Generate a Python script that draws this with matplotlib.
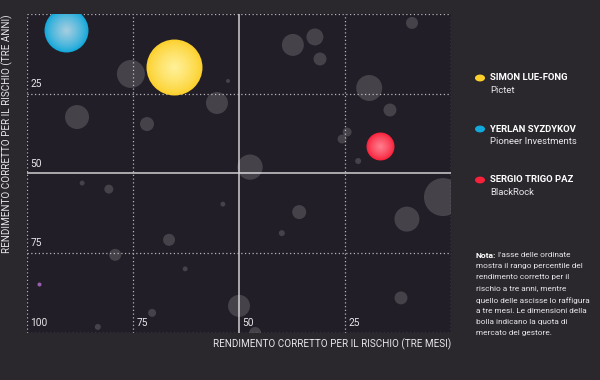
import numpy as np
import matplotlib.pyplot as plt
from matplotlib.colors import to_rgb

plt.rcParams['font.family'] = ['Roboto', 'DejaVu Sans']

# gestori evidenziati: rendimento 3 mesi (x), 3 anni (y), quota di mercato
nomi = ['SIMON LUE-FONG', 'YERLAN SYZDYKOV', 'SERGIO TRIGO PAZ']
societa = ['Pictet', 'Pioneer Investments', 'BlackRock']
x_top = [65.3, 90.8, 16.7]
y_top = [16.6, 5.0, 41.4]
quota_top = [78.4, 48.4, 19.6]
colori = ['#fcd02c', '#12a8da', '#f7213b']
centri = ['#fff29c', '#a9cfe0', '#ff8090']

# altri gestori
x_altri = [75.5, 88.2, 71.7, 55.2, 52.6, 37.3, 32.1, 30.9, 9.2, 19.3, 14.4, 24.5,
           25.7, 21.9, 47.4, 87.0, 80.7, 53.8, 66.5, 79.2, 62.7, 70.5, 83.3,
           50.0, 35.8, 39.9, 10.4, 1.9, 11.8, 46.2]
y_altri = [18.8, 32.3, 34.5, 27.9, 21.0, 9.7, 7.2, 14.1, 2.8, 23.2, 30.1, 37.0,
           39.2, 46.1, 48.0, 53.0, 54.9, 59.6, 70.8, 75.5, 79.9, 93.7, 98.1,
           91.5, 62.1, 68.7, 64.3, 57.4, 89.0, 100.0]
quota_altri = [19.6, 14.4, 4.9, 12.1, 0.4, 12.1, 7.2, 4.2, 3.6, 16.9, 4.2, 2.0,
               2.0, 0.9, 16.0, 0.6, 2.0, 0.6, 3.6, 3.6, 0.6, 1.6, 0.9,
               12.1, 4.9, 0.9, 15.6, 36.1, 4.2, 3.6]
x_viola = [97.2]
y_viola = [84.6]

ticks = [25, 50, 75, 100]
scala = 20.7

fig = plt.figure(figsize=(6, 3.8), dpi=100, facecolor='#2a272d')
ax = fig.add_axes([0.045, 0.1237, 0.7067, 0.8395])
ax.set_facecolor('#221e28')
ax.set_xlim(100, 0)
ax.set_ylim(100, 0)

ax.scatter(x_altri, y_altri, s=[q * scala for q in quota_altri],
           color='white', alpha=0.16, linewidths=0, zorder=2)
ax.scatter(x_viola, y_viola, s=0.4 * scala, color='#9a5fb0', linewidths=0, zorder=2)

# bolle con sfumatura radiale
for xi, yi, q, c1, c2 in zip(x_top, y_top, quota_top, colori, centri):
    a = np.array(to_rgb(c1))
    b = np.array(to_rgb(c2))
    for k in np.linspace(1, 0.05, 25):
        t = (1 - k) ** 0.8
        ax.scatter([xi], [yi], s=q * scala * k ** 2, color=a + (b - a) * t,
                   linewidths=0, zorder=3)

for t in [0, 25, 75, 100]:
    ax.axvline(t, color='#b5b3b8', lw=0.9, ls=(0, (1, 2)), zorder=1)
    ax.axhline(t, color='#b5b3b8', lw=0.9, ls=(0, (1, 2)), zorder=1)
ax.axvline(50, color='#d0ced2', lw=1.1, zorder=1)
ax.axhline(50, color='#d0ced2', lw=1.1, zorder=1)

for t in ticks:
    ax.text(t - 0.8, 100 - 1.5, str(t), color='#e8e6ea', fontsize=7.3,
            ha='left', va='bottom', zorder=5)
for t in ticks[:-1]:
    ax.text(99.2, t - 1.5, str(t), color='#e8e6ea', fontsize=7.3,
            ha='left', va='bottom', zorder=5)

for s in ax.spines.values():
    s.set_visible(False)
ax.set_xticks([])
ax.set_yticks([])

fig.text(0.752, 0.108, 'RENDIMENTO CORRETTO PER IL RISCHIO (TRE MESI)',
         color='#e8e6ea', fontsize=7.1, ha='right', va='top')
fig.text(0.022, 0.963, 'RENDIMENTO CORRETTO PER IL RISCHIO (TRE ANNI)',
         color='#e8e6ea', fontsize=7.1, ha='right', va='top', rotation=90)

# legenda
for i, (n, s, c) in enumerate(zip(nomi, societa, colori)):
    yy = 1 - (78 + i * 51) / 380
    fig.add_artist(plt.Circle((480 / 600, yy), 0.0072, color=c,
                              transform=fig.transFigure))
    fig.text(490 / 600, yy, n, color='white', fontsize=6.8, fontweight='bold',
             ha='left', va='center')
    fig.text(490 / 600, yy - 0.034, s, color='#e8e6ea', fontsize=6.8,
             ha='left', va='center')

righe = ["mostra il rango percentile del", "rendimento corretto per il",
         "rischio a tre anni, mentre", "quello delle ascisse lo raffigura",
         "a tre mesi. Le dimensioni della", "bolla indicano la quota di",
         "mercato del gestore."]
x0 = 476 / 600
y0 = 1 - 252 / 380
passo = 11.2 / 380
r = fig.canvas.get_renderer()
tn = fig.text(x0, y0, 'Nota:', color='white', fontsize=6.1, fontweight='bold',
              ha='left', va='top')
w = tn.get_window_extent(r).width / 600
fig.text(x0 + w + 0.003, y0, "l'asse delle ordinate", color='#e8e6ea',
         fontsize=5.95, ha='left', va='top')
for i, riga in enumerate(righe):
    fig.text(x0, y0 - (i + 1) * passo, riga, color='#e8e6ea', fontsize=5.95,
             ha='left', va='top')

fig.savefig('out.png', dpi=100, facecolor=fig.get_facecolor())
